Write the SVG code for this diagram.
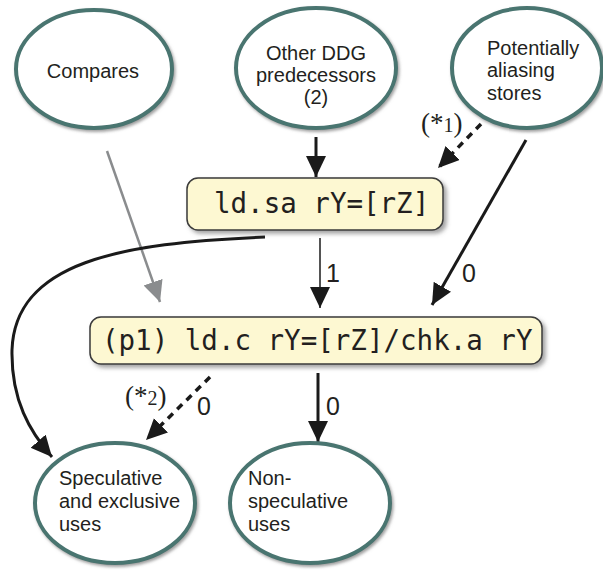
<svg xmlns="http://www.w3.org/2000/svg" width="603" height="570" viewBox="0 0 603 570">
  <style>
    .oval { fill: #ffffff; stroke: #4a7470; stroke-width: 4; filter: url(#ovalShadow); }
    .box { fill: #fdf8d2; stroke: #3a3a3a; stroke-width: 1.5; filter: url(#boxShadow); }
    .lbl { font-family: "Liberation Sans", Arial, sans-serif; font-size: 20px; fill: #231f20; }
    .code { font-family: "DejaVu Sans Mono", monospace; font-size: 27.5px; fill: #231f20; }
    .num { font-family: "Liberation Sans", Arial, sans-serif; font-size: 25px; fill: #231f20; }
    .star { font-family: "Liberation Serif", "Times New Roman", serif; font-size: 27px; fill: #231f20; }
    .thick { fill: none; stroke: #1a1a1a; stroke-width: 3; }
    .thin { fill: none; stroke: #1a1a1a; stroke-width: 1.5; }
    .dash { fill: none; stroke: #1a1a1a; stroke-width: 3.5; stroke-dasharray: 7 6; }
    .grey { fill: none; stroke: #8a8c8e; stroke-width: 2.5; }
  </style>
  <defs>
    <filter id="ovalShadow" x="-10%" y="-10%" width="125%" height="125%">
      <feDropShadow dx="1.5" dy="2" stdDeviation="1.5" flood-color="#777" flood-opacity="0.7"/>
    </filter>
    <filter id="boxShadow" x="-5%" y="-10%" width="112%" height="135%">
      <feDropShadow dx="3" dy="3" stdDeviation="2" flood-color="#666" flood-opacity="0.6"/>
    </filter>
    <marker id="ah" markerUnits="userSpaceOnUse" markerWidth="23" markerHeight="21" refX="21" refY="10" orient="auto">
      <path d="M0,0 L21,10 L0,20 Z" fill="#1a1a1a"/>
    </marker>
    <marker id="ahGrey" markerUnits="userSpaceOnUse" markerWidth="23" markerHeight="21" refX="21" refY="10" orient="auto">
      <path d="M0,0 L21,10 L0,20 Z" fill="#8a8c8e"/>
    </marker>
  </defs>

  <rect width="603" height="570" fill="#ffffff"/>

  <!-- connectors -->
  <g id="connectors">
    <line class="grey" x1="107" y1="151" x2="160" y2="302" marker-end="url(#ahGrey)"/>
    <line class="thick" x1="316" y1="137" x2="316" y2="177" marker-end="url(#ah)"/>
    <line class="dash" x1="481" y1="124" x2="438" y2="168" marker-end="url(#ah)"/>
    <line class="thick" x1="526" y1="140" x2="432" y2="305" marker-end="url(#ah)"/>
    <line class="thin" x1="320" y1="238" x2="320" y2="308" marker-end="url(#ah)"/>
    <path class="thick" d="M265,237 C120,243 15,262 12,350 C11,400 30,432 52,457" marker-end="url(#ah)"/>
    <line class="dash" x1="210" y1="377" x2="146" y2="440" marker-end="url(#ah)"/>
    <line class="thick" x1="318" y1="373" x2="318" y2="442" marker-end="url(#ah)"/>

    <text class="star" x="421" y="132">(*<tspan font-size="20">1</tspan>)</text>
    <text class="num" x="462" y="282">0</text>
    <text class="num" x="326" y="282">1</text>
    <text class="star" x="125" y="405">(*<tspan font-size="20">2</tspan>)</text>
    <text class="num" x="197" y="415">0</text>
    <text class="num" x="326" y="415">0</text>
  </g>

  <!-- source nodes -->
  <g id="compares">
    <ellipse class="oval" cx="94" cy="69" rx="78" ry="59"/>
    <text class="lbl" x="93" y="78" text-anchor="middle">Compares</text>
  </g>
  <g id="other-ddg">
    <ellipse class="oval" cx="316" cy="68" rx="80" ry="60"/>
    <text class="lbl" x="316" y="60" text-anchor="middle">Other DDG</text>
    <text class="lbl" x="316" y="82" text-anchor="middle">predecessors</text>
    <text class="lbl" x="316" y="104" text-anchor="middle">(2)</text>
  </g>
  <g id="aliasing-stores">
    <ellipse class="oval" cx="527" cy="68" rx="75" ry="60"/>
    <text class="lbl" x="487" y="55">Potentially</text>
    <text class="lbl" x="487" y="77">aliasing</text>
    <text class="lbl" x="487" y="100">stores</text>
  </g>

  <!-- load instructions -->
  <g id="ld-sa">
    <rect class="box" x="187" y="178" width="256" height="52" rx="11"/>
    <text class="code" x="214" y="213">ld.sa rY=[rZ]</text>
  </g>
  <g id="ld-c">
    <rect class="box" x="90" y="317" width="452" height="47" rx="11"/>
    <text class="code" x="102" y="350">(p1) ld.c rY=[rZ]/chk.a rY</text>
  </g>

  <!-- consumer nodes -->
  <g id="speculative-uses">
    <ellipse class="oval" cx="115" cy="503" rx="80" ry="60"/>
    <text class="lbl" x="59" y="485">Speculative</text>
    <text class="lbl" x="59" y="508">and exclusive</text>
    <text class="lbl" x="59" y="531">uses</text>
  </g>
  <g id="non-speculative-uses">
    <ellipse class="oval" cx="310" cy="503" rx="80" ry="60"/>
    <text class="lbl" x="248" y="485">Non-</text>
    <text class="lbl" x="248" y="508">speculative</text>
    <text class="lbl" x="248" y="531">uses</text>
  </g>
</svg>
